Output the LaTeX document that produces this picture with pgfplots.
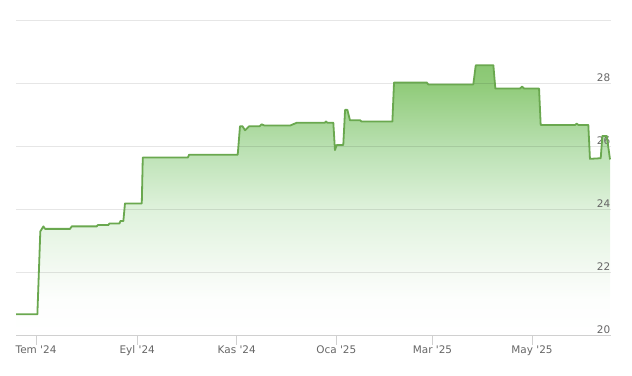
\documentclass[border=0pt]{standalone}
\usepackage{fontspec}
\setmainfont{DejaVu Sans}
\usepackage{pgfplots}
\pgfplotsset{compat=1.18}
\pgfplotsset{layers/mylayers/.define layer set={axis background,axis grid,axis ticks,axis lines,main,axis tick labels,axis descriptions,axis foreground}{}}
\definecolor{linegreen}{RGB}{106,168,79}
\definecolor{gridgray}{RGB}{230,230,230}
\definecolor{axisgray}{RGB}{208,208,208}
\definecolor{labgray}{RGB}{102,102,102}
\definecolor{fA}{RGB}{138,199,115}
\definecolor{fB}{RGB}{146,204,124}
\definecolor{fC}{RGB}{187,225,179}
\definecolor{fD}{RGB}{223,242,220}
\definecolor{fE}{RGB}{244,250,243}
\definecolor{fF}{RGB}{253,254,253}
\pgfdeclareverticalshading{areafill}{100bp}{color(0bp)=(white); color(25bp)=(white); color(31.5bp)=(fF); color(36.7bp)=(fE); color(48.2bp)=(fD); color(59.4bp)=(fC); color(70.9bp)=(fB); color(75bp)=(fA); color(100bp)=(fA)}
\begin{document}
\begin{tikzpicture}
\pgfplotstableread{
x y
-12.3 20.66
0.8 20.66
2.6 23.30
4.5 23.46
5.5 23.38
20.8 23.38
21.9 23.46
37.2 23.46
37.8 23.50
44.3 23.50
44.9 23.55
51.1 23.55
51.7 23.63
53.5 23.63
54.5 24.19
64.8 24.19
65.4 25.65
93.0 25.65
93.8 25.74
123.6 25.74
125.0 26.65
126.5 26.65
128.1 26.52
130.7 26.65
137.0 26.65
138.3 26.71
140.0 26.67
155.7 26.67
159.8 26.76
177.0 26.76
177.7 26.80
178.5 26.76
182.2 26.76
183.2 25.89
184.3 26.05
188.3 26.05
189.4 27.17
190.8 27.17
192.4 26.84
198.6 26.84
199.5 26.80
218.4 26.80
219.4 28.04
239.5 28.04
240.4 27.98
268.0 27.98
269.5 28.59
280.3 28.59
281.5 27.85
296.6 27.85
297.9 27.91
299.1 27.85
308.3 27.85
309.3 26.69
330.4 26.69
331.4 26.73
332.4 26.69
338.5 26.69
339.5 25.61
346.1 25.63
347.1 26.34
349.8 26.34
351.8 25.59
}\price
\pgfplotstableread{
x y
-12.3 20
-12.3 20.66
0.8 20.66
2.6 23.30
4.5 23.46
5.5 23.38
20.8 23.38
21.9 23.46
37.2 23.46
37.8 23.50
44.3 23.50
44.9 23.55
51.1 23.55
51.7 23.63
53.5 23.63
54.5 24.19
64.8 24.19
65.4 25.65
93.0 25.65
93.8 25.74
123.6 25.74
125.0 26.65
126.5 26.65
128.1 26.52
130.7 26.65
137.0 26.65
138.3 26.71
140.0 26.67
155.7 26.67
159.8 26.76
177.0 26.76
177.7 26.80
178.5 26.76
182.2 26.76
183.2 25.89
184.3 26.05
188.3 26.05
189.4 27.17
190.8 27.17
192.4 26.84
198.6 26.84
199.5 26.80
218.4 26.80
219.4 28.04
239.5 28.04
240.4 27.98
268.0 27.98
269.5 28.59
280.3 28.59
281.5 27.85
296.6 27.85
297.9 27.91
299.1 27.85
308.3 27.85
309.3 26.69
330.4 26.69
331.4 26.73
332.4 26.69
338.5 26.69
339.5 25.61
346.1 25.63
347.1 26.34
349.8 26.34
351.8 25.59
351.8 20
}\pricefill
\begin{axis}[
  name=ax,
  set layers=mylayers,
  scale only axis,
  width=595bp, height=314bp,
  xmin=-12.3, xmax=352.4,
  ymin=20, ymax=30,
  axis x line*=bottom,
  axis y line*=right,
  x axis line style={draw=axisgray, line width=1bp},
  y axis line style={draw=none},
  xtick={0,62,123,184,243,304},
  xticklabels={Tem \textquotesingle24, Eyl \textquotesingle24, Kas \textquotesingle24, Oca \textquotesingle25, Mar \textquotesingle25, May \textquotesingle25},
  ytick={20,22,24,26,28,30},
  yticklabels={20,22,24,26,28,},
  ymajorgrids,
  major grid style={draw=gridgray, line width=1bp, blend mode=multiply},
  tick align=outside,
  major tick length=10bp,
  xtick style={draw=axisgray, line width=1bp},
  ytick style={draw=none},
  tick label style={font=\fontsize{10.5}{12}\selectfont, text=labgray},
  /pgf/number format/assume math mode=true,
  xticklabel style={anchor=north, inner sep=0pt, yshift=-0.5bp},
  yticklabel style={anchor=south east, inner sep=0pt, xshift=-10.5bp, yshift=1.5bp},
  clip=false,
]
\addplot[draw=none, shading=areafill, on layer=axis background] table {\pricefill} -- cycle;
\addplot[linegreen, line width=1.8bp, line join=round] table {\price};
\end{axis}
\pgfresetboundingbox
\path ([xshift=-16bp,yshift=-41bp]ax.south west) rectangle ([xshift=21bp,yshift=21bp]ax.north east);
\end{tikzpicture}
\end{document}
